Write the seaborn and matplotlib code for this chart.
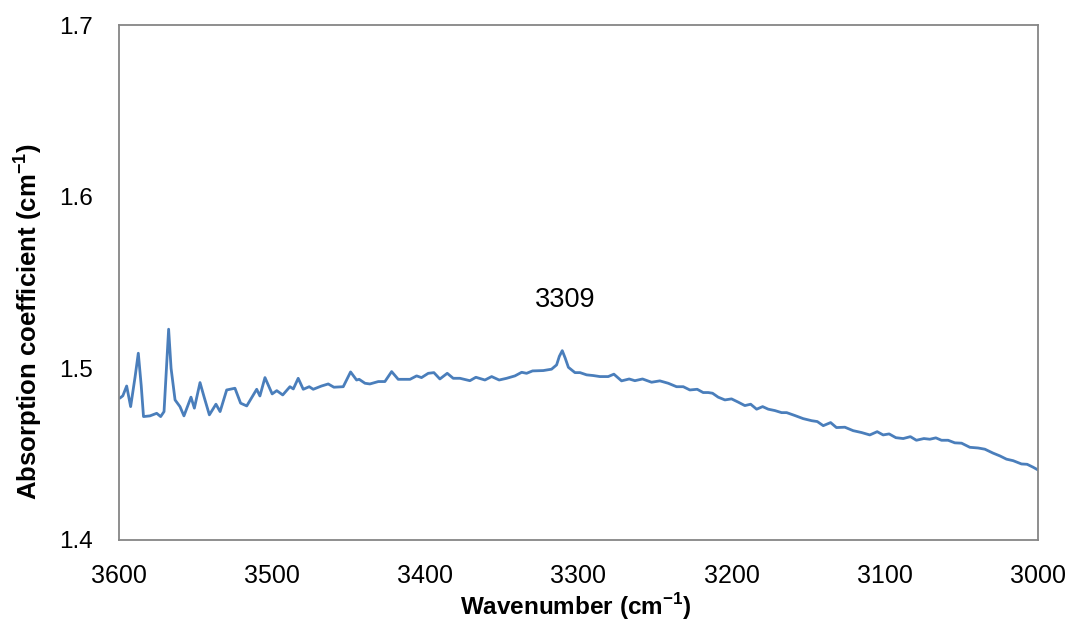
import matplotlib
matplotlib.use("Agg")
import matplotlib.pyplot as plt
import seaborn as sns

# Spectrum (wavenumber in cm-1, absorption coefficient in cm-1)
wavenumber = [
    3599.5, 3597.5, 3595.0, 3592.4, 3589.5, 3587.4, 3585.5, 3584.0, 3579.8, 3575.4,
    3572.8, 3570.6, 3569.0, 3567.6, 3566.0, 3563.4, 3560.2, 3557.6, 3553.0, 3550.8,
    3547.1, 3544.5, 3541.0, 3536.7, 3534.0, 3529.7, 3524.3, 3520.6, 3516.6, 3510.1,
    3508.0, 3504.7, 3500.0, 3497.0, 3493.1, 3488.4, 3486.2, 3483.0, 3479.7, 3475.8,
    3473.2, 3467.8, 3463.4, 3459.7, 3453.6, 3448.8, 3444.9, 3443.2, 3439.4, 3436.2,
    3430.7, 3426.4, 3422.0, 3417.7, 3410.0, 3405.7, 3402.5, 3398.1, 3394.4, 3390.5,
    3385.7, 3381.8, 3377.4, 3370.9, 3367.0, 3361.1, 3356.7, 3351.8, 3346.9, 3341.5,
    3337.1, 3333.9, 3330.0, 3323.0, 3317.6, 3314.3, 3312.5, 3310.6, 3308.7, 3306.6,
    3302.3, 3299.0, 3294.7, 3290.4, 3286.0, 3280.6, 3276.9, 3271.9, 3266.9, 3263.2,
    3258.2, 3252.3, 3246.9, 3241.4, 3236.0, 3231.6, 3227.3, 3222.5, 3218.6, 3215.3,
    3212.5, 3208.8, 3204.4, 3200.1, 3195.7, 3191.4, 3187.6, 3183.7, 3179.8, 3176.1,
    3171.8, 3167.4, 3164.1, 3158.7, 3153.3, 3147.8, 3144.1, 3140.2, 3135.4, 3131.6,
    3126.1, 3120.7, 3115.2, 3109.8, 3105.0, 3101.1, 3097.2, 3092.8, 3088.0, 3083.3,
    3079.4, 3074.5, 3070.6, 3066.7, 3063.0, 3058.7, 3054.3, 3049.9, 3044.5, 3039.1,
    3034.7, 3029.3, 3024.9, 3020.6, 3016.2, 3010.8, 3007.1, 3003.2, 3000.0,
]
absorption = [
    1.4826, 1.4840, 1.4897, 1.4777, 1.4950, 1.5088, 1.4900, 1.4719, 1.4723, 1.4738,
    1.4719, 1.4748, 1.5000, 1.5228, 1.5000, 1.4816, 1.4777, 1.4723, 1.4832, 1.4768,
    1.4917, 1.4835, 1.4729, 1.4791, 1.4748, 1.4874, 1.4884, 1.4797, 1.4781, 1.4878,
    1.4839, 1.4946, 1.4851, 1.4870, 1.4845, 1.4893, 1.4880, 1.4942, 1.4878, 1.4893,
    1.4878, 1.4897, 1.4909, 1.4890, 1.4893, 1.4979, 1.4932, 1.4936, 1.4913, 1.4909,
    1.4923, 1.4923, 1.4981, 1.4936, 1.4936, 1.4956, 1.4946, 1.4971, 1.4975, 1.4938,
    1.4971, 1.4942, 1.4942, 1.4928, 1.4948, 1.4932, 1.4952, 1.4932, 1.4942, 1.4956,
    1.4977, 1.4971, 1.4985, 1.4987, 1.4995, 1.5020, 1.5070, 1.5103, 1.5060, 1.5006,
    1.4975, 1.4975, 1.4962, 1.4958, 1.4952, 1.4952, 1.4966, 1.4927, 1.4938, 1.4928,
    1.4938, 1.4919, 1.4927, 1.4913, 1.4893, 1.4893, 1.4874, 1.4878, 1.4859, 1.4859,
    1.4855, 1.4832, 1.4816, 1.4822, 1.4803, 1.4783, 1.4791, 1.4762, 1.4777, 1.4762,
    1.4754, 1.4742, 1.4742, 1.4725, 1.4707, 1.4695, 1.4690, 1.4666, 1.4684, 1.4655,
    1.4657, 1.4637, 1.4626, 1.4612, 1.4631, 1.4612, 1.4618, 1.4596, 1.4591, 1.4602,
    1.4581, 1.4591, 1.4587, 1.4595, 1.4581, 1.4581, 1.4566, 1.4564, 1.4540, 1.4536,
    1.4529, 1.4506, 1.4490, 1.4471, 1.4462, 1.4443, 1.4441, 1.4424, 1.4408,
]

x_ticks = [3600, 3500, 3400, 3300, 3200, 3100, 3000]
y_ticks = [1.4, 1.5, 1.6, 1.7]
peak_label = "3309"
peak_pos = (3309, 1.540)

LINE_COLOR = "#4a7ebb"
AXIS_COLOR = "#868686"

sns.set_style("white")
plt.rcParams['font.family'] = ['Liberation Sans', 'DejaVu Sans']
plt.rcParams['mathtext.fontset'] = 'custom'
plt.rcParams['mathtext.rm'] = 'Liberation Sans'
plt.rcParams['mathtext.bf'] = 'Liberation Sans:bold'
plt.rcParams['text.color'] = 'black'
plt.rcParams['axes.labelcolor'] = 'black'

fig = plt.figure(figsize=(10.71, 6.24), dpi=100)
ax = fig.add_axes([119 / 1071, 1 - 540 / 624, 919 / 1071, 515 / 624])

sns.lineplot(x=wavenumber, y=absorption, ax=ax, color=LINE_COLOR, linewidth=2.0)

ax.set_xlim(3600, 3000)
ax.set_ylim(1.4, 1.7)
ax.set_xticks(x_ticks)
ax.set_yticks(y_ticks)
ax.set_xticklabels([str(t) for t in x_ticks])
ax.set_yticklabels([f"{t:.1f}" for t in y_ticks])

for spine in ax.spines.values():
    spine.set_color(AXIS_COLOR)
    spine.set_linewidth(1.3)
    spine.set_visible(True)
ax.tick_params(axis='both', direction='out', length=7, width=1.3,
               color=AXIS_COLOR, labelcolor='black')
ax.tick_params(axis='x', labelsize=18, pad=10)
ax.tick_params(axis='y', labelsize=17.5, pad=11.5)

ax.set_xlabel(r"Wavenumber (cm$^{\mathbf{-1}}$)", fontsize=17.5, fontweight='bold')
ax.set_ylabel(r"Absorption coefficient (cm$^{\mathbf{-1}}$)", fontsize=18.5, fontweight='bold')
ax.xaxis.set_label_coords(0.4967, -0.100)
ax.yaxis.set_label_coords(-0.082, 0.425)

ax.text(peak_pos[0], peak_pos[1], peak_label, fontsize=19.5, ha='center', va='center')

fig.savefig("out.png", dpi=100)
